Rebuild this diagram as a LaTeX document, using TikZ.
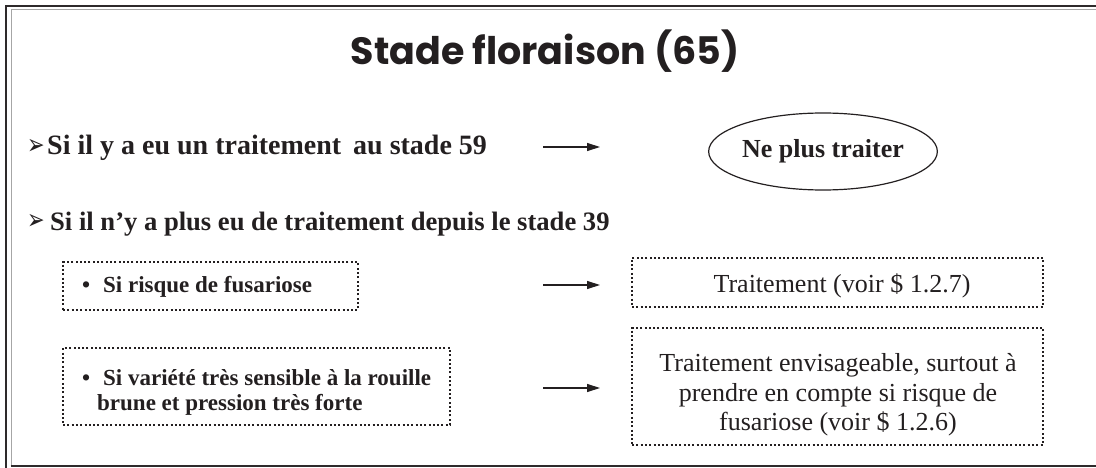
\documentclass[tikz,border=0pt]{standalone}
\usepackage{fontspec}
\setmainfont{Liberation Serif}
\newfontfamily\titlefont{Poppins}
\newfontfamily\symfont{DejaVu Sans}
\usetikzlibrary{shapes.geometric,arrows.meta}
\definecolor{ink}{HTML}{231F20}
\newcommand{\arrowbullet}{\raisebox{1pt}{\scalebox{1}[1.35]{\symfont\mdseries\fontsize{21}{21}\selectfont ➢}}}
\tikzset{
  cond/.style={text=ink, anchor=base west, inner sep=0pt},
  dotbox/.style={draw=ink, line width=2pt, dash pattern=on 2pt off 2.3pt, inner sep=0pt},
  condtext/.style={font=\bfseries\fontsize{23}{25}\selectfont, text=ink, align=left, inner sep=0pt},
  restext/.style={font=\fontsize{26}{29.5}\selectfont, text=ink, align=center, inner sep=0pt},
  flow/.style={draw=ink, line width=1.3pt, -{Triangle[length=13pt,width=8pt]}},
  frameD/.style={draw=ink!95, line width=2.2pt},
  frameG/.style={draw=black!35, line width=1.4pt}
}
\begin{document}
\begin{tikzpicture}[x=1pt,y=-1pt]
\useasboundingbox (0,0) rectangle (1096,468);
% frame
\draw[frameD] (6,468) -- (6,6.3) -- (1096,6.3);
\draw[frameG] (11.7,466) -- (11.7,9.3) -- (1096,9.3);
\draw[frameD, line width=2pt] (10.5,466.3) -- (1096,466.3);
% title
\node[font=\titlefont\bfseries\fontsize{38}{40}\selectfont, text=ink, anchor=base, inner sep=0pt] (title) at (545,65) {Stade floraison (65)};
% line 1
\node[cond, font=\bfseries\fontsize{28}{30}\selectfont] (c1) at (27,155)
  {\makebox[20pt][l]{\arrowbullet}Si il y a eu un traitement\hspace{5pt} au stade 59};
\node[draw=ink, line width=1.2pt, ellipse, minimum width=209pt, minimum height=77pt, inner sep=0pt,
      font=\bfseries\fontsize{26}{28}\selectfont, text=ink] (r1) at (823,151.5) {Ne plus traiter};
\coordinate (a1s) at (543,147);
\coordinate (a1e) at (600,147);
\draw[flow] (a1s) -- (a1e);
% line 2
\node[cond, font=\bfseries\fontsize{26.6}{28}\selectfont] (c2) at (27,230)
  {\makebox[23pt][l]{\arrowbullet}Si il n’y a plus eu de traitement depuis le stade 39};
% box 1
\node[dotbox, minimum width=295pt, minimum height=48pt] (b1) at (210.5,286) {};
\node[condtext, anchor=base west] (b1t) at (82,292) {\makebox[21pt][l]{\textbullet}Si risque de fusariose};
\node[dotbox, minimum width=411pt, minimum height=49pt] (r2) at (837.5,282.5) {};
\node[restext, anchor=base] (r2t) at (842,292) {Traitement (voir \$ 1.2.7)};
\coordinate (a2s) at (543,285);
\coordinate (a2e) at (600,285);
\draw[flow] (a2s) -- (a2e);
% box 3
\node[dotbox, minimum width=387pt, minimum height=77pt] (b3) at (256.5,386.5) {};
\node[condtext, anchor=west] (b3t) at (82,392) {\makebox[21pt][l]{\textbullet}Si variété très sensible à la rouille\\\hspace*{15pt}brune et pression très forte};
\node[dotbox, minimum width=411pt, minimum height=117pt] (r3) at (837.5,386.5) {};
\node[restext] (r3t) at (838,395) {Traitement envisageable, surtout à\\prendre en compte si risque de\\fusariose (voir \$ 1.2.6)};
\coordinate (a3s) at (543,388);
\coordinate (a3e) at (600,388);
\draw[flow] (a3s) -- (a3e);
\end{tikzpicture}
\end{document}
